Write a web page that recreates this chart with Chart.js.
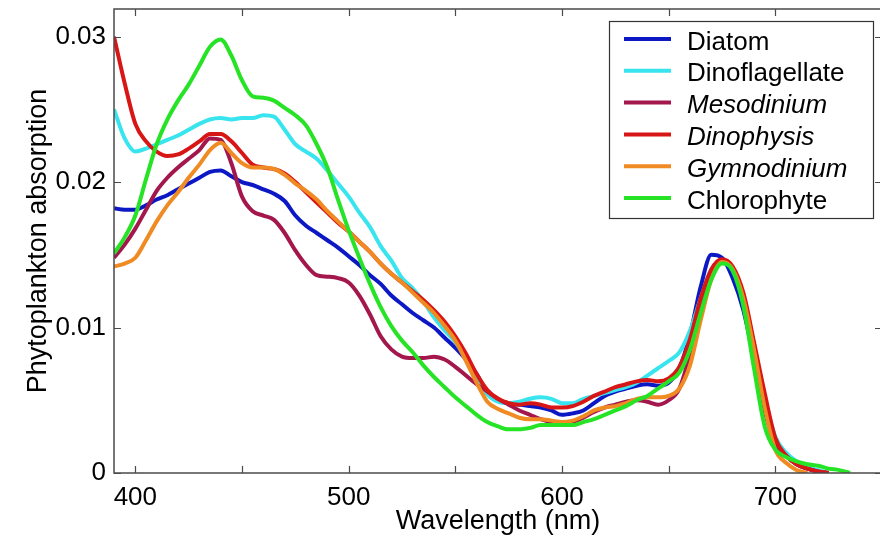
<!DOCTYPE html>
<html>
<head>
<meta charset="utf-8">
<script src="https://cdn.jsdelivr.net/npm/chart.js@4.4.1/dist/chart.umd.min.js"></script>
<style>
  html, body { margin: 0; padding: 0; background: #fff; overflow: hidden; }
</style>
</head>
<body>
<canvas id="chart" width="886" height="540"></canvas>
<script>
const wavelengths = [
  390, 395, 400, 405, 410, 415, 420, 425, 430, 435,
  440, 445, 450, 455, 460, 465, 470, 475, 480, 485,
  490, 495, 500, 505, 510, 515, 520, 525, 530, 535,
  540, 545, 550, 555, 560, 565, 570, 575, 580, 585,
  590, 595, 600, 605, 610, 615, 620, 625, 630, 635,
  640, 645, 650, 655, 660, 665, 670, 675, 680, 685,
  690, 695, 700, 705, 710, 715, 720, 725, 730, 735,
];

const diatom = [
  0.0182, 0.0181, 0.0181, 0.0184, 0.0188, 0.0191, 0.0195, 0.0199, 0.0203, 0.0207,
  0.0208, 0.0204, 0.0200, 0.0198, 0.0195, 0.0192, 0.0187, 0.0177, 0.0170, 0.0165,
  0.0160, 0.0155, 0.0149, 0.0143, 0.0136, 0.0130, 0.0122, 0.0116, 0.0110, 0.0105,
  0.0100, 0.0093, 0.0086, 0.0078, 0.0068, 0.0055, 0.0050, 0.0048, 0.0047, 0.0046,
  0.0045, 0.0043, 0.0040, 0.0041, 0.0043, 0.0048, 0.0053, 0.0056, 0.0058, 0.0060,
  0.0061, 0.0060, 0.0062, 0.0072, 0.0095, 0.0128, 0.0150, 0.0148, 0.0134, 0.0112,
  0.0078, 0.0043, 0.0020, 0.0012, 0.0006, 0.0003, 0.0001, 0.0, null, null,
];

const dinoflagellate = [
  0.0250, 0.0230, 0.0221, 0.0223, 0.0226, 0.0229, 0.0232, 0.0236, 0.0240, 0.0243,
  0.0244, 0.0243, 0.0244, 0.0244, 0.0246, 0.0245, 0.0236, 0.0226, 0.0221, 0.0216,
  0.0208, 0.0199, 0.0190, 0.0179, 0.0169, 0.0156, 0.0146, 0.0134, 0.0127, 0.0118,
  0.0107, 0.0098, 0.0090, 0.0079, 0.0066, 0.0054, 0.0049, 0.0048, 0.0049, 0.0051,
  0.0052, 0.0051, 0.0048, 0.0048, 0.0051, 0.0053, 0.0055, 0.0057, 0.0059, 0.0062,
  0.0067, 0.0072, 0.0077, 0.0083, 0.0098, 0.0120, 0.0140, 0.0146, 0.0140, 0.0120,
  0.0088, 0.0052, 0.0025, 0.0014, 0.0008, 0.0004, 0.0002, 0.0, null, null,
];

const mesodinium = [
  0.0148, 0.0157, 0.0168, 0.0181, 0.0194, 0.0203, 0.0210, 0.0216, 0.0222, 0.0230,
  0.0229, 0.0213, 0.0190, 0.0180, 0.0177, 0.0174, 0.0165, 0.0153, 0.0143, 0.0136,
  0.0135, 0.0134, 0.0131, 0.0122, 0.0109, 0.0094, 0.0085, 0.0080, 0.0079, 0.0079,
  0.0080, 0.0078, 0.0073, 0.0067, 0.0061, 0.0056, 0.0051, 0.0047, 0.0043, 0.0040,
  0.0037, 0.0035, 0.0034, 0.0035, 0.0038, 0.0042, 0.0045, 0.0047, 0.0049, 0.0050,
  0.0049, 0.0047, 0.0050, 0.0058, 0.0082, 0.0115, 0.0138, 0.0145, 0.0140, 0.0122,
  0.0088, 0.0050, 0.0022, 0.0012, 0.0006, 0.0003, 0.0001, 0.0, null, null,
];

const dinophysis = [
  0.0300, 0.0268, 0.0240, 0.0228, 0.0221, 0.0218, 0.0219, 0.0223, 0.0228, 0.0233,
  0.0233, 0.0228, 0.0220, 0.0212, 0.0210, 0.0209, 0.0206, 0.0200, 0.0193, 0.0186,
  0.0179, 0.0172, 0.0166, 0.0159, 0.0152, 0.0144, 0.0137, 0.0131, 0.0125, 0.0119,
  0.0112, 0.0104, 0.0094, 0.0082, 0.0068, 0.0057, 0.0051, 0.0048, 0.0047, 0.0048,
  0.0047, 0.0045, 0.0045, 0.0046, 0.0049, 0.0053, 0.0056, 0.0059, 0.0061, 0.0063,
  0.0064, 0.0063, 0.0065, 0.0073, 0.0092, 0.0120, 0.0140, 0.0147, 0.0142, 0.0124,
  0.0090, 0.0055, 0.0024, 0.0012, 0.0006, 0.0003, 0.0001, 0.0, null, null,
];

const gymnodinium = [
  0.0142, 0.0144, 0.0148, 0.0160, 0.0173, 0.0184, 0.0193, 0.0203, 0.0212, 0.0222,
  0.0227, 0.0220, 0.0213, 0.0210, 0.0210, 0.0209, 0.0205, 0.0199, 0.0194, 0.0188,
  0.0180, 0.0173, 0.0166, 0.0159, 0.0152, 0.0144, 0.0137, 0.0131, 0.0124, 0.0117,
  0.0110, 0.0101, 0.0091, 0.0077, 0.0062, 0.0049, 0.0044, 0.0041, 0.0038, 0.0037,
  0.0037, 0.0036, 0.0035, 0.0036, 0.0039, 0.0043, 0.0045, 0.0046, 0.0048, 0.0051,
  0.0052, 0.0052, 0.0053, 0.0058, 0.0074, 0.0105, 0.0133, 0.0145, 0.0140, 0.0120,
  0.0085, 0.0045, 0.0016, 0.0007, 0.0002, 0.0, null, null, null, null,
];

const chlorophyte = [
  0.0151, 0.0162, 0.0177, 0.0202, 0.0226, 0.0243, 0.0256, 0.0267, 0.0280, 0.0293,
  0.0298, 0.0287, 0.0270, 0.0259, 0.0258, 0.0256, 0.0251, 0.0246, 0.0239, 0.0226,
  0.0210, 0.0188, 0.0167, 0.0148, 0.0130, 0.0114, 0.0101, 0.0091, 0.0083, 0.0074,
  0.0066, 0.0059, 0.0052, 0.0046, 0.0040, 0.0035, 0.0032, 0.0030, 0.0030, 0.0031,
  0.0033, 0.0033, 0.0033, 0.0033, 0.0035, 0.0037, 0.0040, 0.0043, 0.0046, 0.0050,
  0.0053, 0.0058, 0.0063, 0.0069, 0.0085, 0.0110, 0.0133, 0.0144, 0.0139, 0.0115,
  0.0072, 0.0032, 0.0016, 0.0011, 0.0008, 0.0006, 0.0005, 0.0003, 0.0002, 0.0,
];

const seriesNames = ["Diatom", "Dinoflagellate", "Mesodinium", "Dinophysis", "Gymnodinium", "Chlorophyte"];
const seriesValues = [diatom, dinoflagellate, mesodinium, dinophysis, gymnodinium, chlorophyte];
const seriesColors = ["#0b18c4", "#38e4ee", "#a3174d", "#d91616", "#f08a22", "#26e326"];
const italicNames = ["Mesodinium", "Dinophysis", "Gymnodinium"];

const xTicks = [400, 450, 500, 550, 600, 650, 700];
const xTickLabels = ["400", "", "500", "", "600", "", "700"];
const yTicks = [0, 0.01, 0.02, 0.03];
const yTickLabels = ["0", "0.01", "0.02", "0.03"];

const FONT = "'Liberation Sans', Arial, sans-serif";

// matlab style box: frame, inward ticks on all four sides
const frameTicksPlugin = {
  id: "frameTicks",
  afterDatasetsDraw(chart) {
    const { ctx, chartArea: a } = chart;
    const xs = chart.scales.x;
    const ys = chart.scales.y;
    const len = 7;
    ctx.save();
    ctx.strokeStyle = "#4a4a4a";
    ctx.lineWidth = 1.5;
    ctx.strokeRect(a.left, a.top, a.right - a.left, a.bottom - a.top);
    ctx.lineWidth = 1.2;
    ctx.beginPath();
    xTicks.forEach((v) => {
      const px = Math.round(xs.getPixelForValue(v)) + 0.5;
      ctx.moveTo(px, a.bottom);
      ctx.lineTo(px, a.bottom - len);
      ctx.moveTo(px, a.top);
      ctx.lineTo(px, a.top + len);
    });
    yTicks.forEach((v) => {
      const py = Math.round(ys.getPixelForValue(v)) + 0.5;
      ctx.moveTo(a.left, py);
      ctx.lineTo(a.left + len, py);
      ctx.moveTo(a.right, py);
      ctx.lineTo(a.right - len, py);
    });
    ctx.stroke();
    ctx.restore();
  },
};

const boxLegendPlugin = {
  id: "boxLegend",
  afterDraw(chart) {
    const { ctx } = chart;
    const box = { left: 609, top: 21, width: 264, height: 197 };
    ctx.save();
    ctx.fillStyle = "#fff";
    ctx.fillRect(box.left, box.top, box.width, box.height);
    ctx.strokeStyle = "#333";
    ctx.lineWidth = 1.2;
    ctx.strokeRect(box.left + 0.5, box.top + 0.5, box.width, box.height);
    chart.data.datasets.forEach((ds, i) => {
      const rowY = 39 + i * 31.8;
      ctx.strokeStyle = ds.borderColor;
      ctx.lineWidth = 4;
      ctx.beginPath();
      ctx.moveTo(624, rowY);
      ctx.lineTo(671, rowY);
      ctx.stroke();
      const italic = italicNames.includes(ds.label) ? "italic " : "";
      ctx.font = `${italic}26px ${FONT}`;
      ctx.fillStyle = "#000";
      ctx.textBaseline = "alphabetic";
      ctx.textAlign = "left";
      ctx.fillText(ds.label, 687, rowY + 10.5);
    });
    ctx.restore();
  },
};

const datasets = seriesNames.map((name, i) => ({
  label: name,
  data: wavelengths.map((w, j) => ({ x: w, y: seriesValues[i][j] })),
  borderColor: seriesColors[i],
  backgroundColor: seriesColors[i],
  borderWidth: 4,
  pointRadius: 0,
  fill: false,
  spanGaps: false,
  cubicInterpolationMode: "monotone",
  order: seriesNames.length - i,
}));

new Chart(document.getElementById("chart").getContext("2d"), {
  type: "line",
  data: { datasets },
  options: {
    responsive: false,
    animation: false,
    layout: { padding: { top: 9, right: 4, left: 0, bottom: 0 } },
    plugins: {
      legend: { display: false },
      tooltip: { enabled: false },
    },
    scales: {
      x: {
        type: "linear",
        min: 390,
        max: 750,
        afterBuildTicks: (scale) => {
          scale.ticks = xTicks.map((v) => ({ value: v }));
        },
        afterFit: (scale) => {
          scale.height = 67;
          scale.paddingLeft = 0;
          scale.paddingRight = 0;
        },
        grid: { display: false, drawTicks: false },
        border: { display: false },
        ticks: {
          autoSkip: false,
          maxRotation: 0,
          padding: 9,
          color: "#000",
          font: { family: FONT, size: 26 },
          callback: (value) => xTickLabels[xTicks.indexOf(value)] ?? "",
        },
        title: {
          display: true,
          text: "Wavelength (nm)",
          color: "#000",
          font: { family: FONT, size: 27 },
          padding: { top: 0, bottom: 2 },
        },
      },
      y: {
        min: 0,
        max: 0.0319,
        afterBuildTicks: (scale) => {
          scale.ticks = yTicks.map((v) => ({ value: v }));
        },
        afterFit: (scale) => {
          scale.width = 114;
          scale.paddingTop = 0;
          scale.paddingBottom = 0;
        },
        grid: { display: false, drawTicks: false },
        border: { display: false },
        ticks: {
          padding: 8,
          color: "#000",
          font: { family: FONT, size: 26 },
          callback: (value) => yTickLabels[yTicks.indexOf(value)] ?? "",
        },
        title: {
          display: true,
          text: "Phytoplankton absorption",
          color: "#000",
          font: { family: FONT, size: 27 },
          padding: { top: 22, bottom: 0 },
        },
      },
    },
  },
  plugins: [frameTicksPlugin, boxLegendPlugin],
});
</script>
</body>
</html>
